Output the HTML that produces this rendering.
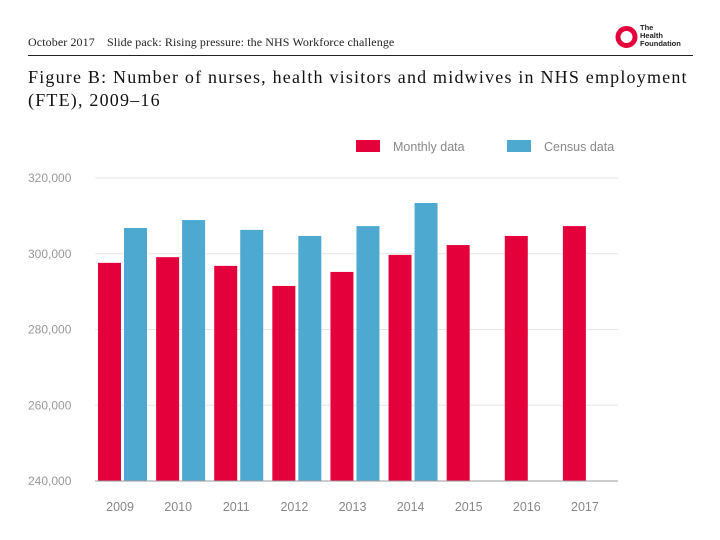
<!DOCTYPE html>
<html><head><meta charset="utf-8"><style>
body{margin:0;width:720px;height:540px;background:#fff;position:relative;overflow:hidden;font-family:"Liberation Serif",serif}
.hdr{position:absolute;top:35px;font-size:12px;color:#222;letter-spacing:0.1px}
</style></head><body>
<div class="hdr" style="left:28px">October 2017</div>
<div class="hdr" style="left:107px">Slide pack: Rising pressure: the NHS Workforce challenge</div>
<div style="position:absolute;left:615px;top:24px;width:80px;height:26px">
<svg width="24" height="24" style="position:absolute;left:0;top:1px"><circle cx="11.5" cy="12" r="8.5" fill="none" stroke="#e4003b" stroke-width="5"/></svg>
<div style="position:absolute;left:25px;top:0;font:bold 7.5px/8px 'Liberation Sans',sans-serif;color:#222">The<br>Health<br>Foundation</div>
</div>
<div style="position:absolute;left:28px;top:55px;width:665px;height:1px;background:#222"></div>
<div style="position:absolute;left:28px;top:66px;font-size:18px;letter-spacing:1.2px;line-height:23px;color:#111;white-space:nowrap">Figure B: Number of nurses, health visitors and midwives in NHS employment<br>(FTE), 2009–16</div>
<svg id="chart" width="720" height="540" style="position:absolute;left:0;top:0"></svg>
<script>
const years=["2009","2010","2011","2012","2013","2014","2015","2016","2017"];
const monthly=[297600,299100,296800,291500,295200,299700,302300,304700,307300];
const census=[306800,308900,306300,304700,307300,313400,null,null,null];
const yTicks=[240000,260000,280000,300000,320000];
const yTickLabels=["240,000","260,000","280,000","300,000","320,000"];
const ns="http://www.w3.org/2000/svg";
const svg=document.getElementById('chart');
const x0=95,x1=618,yB=481,yT=178,vMin=240000,vMax=320000;
const y=v=>yB-(v-vMin)/(vMax-vMin)*(yB-yT);
const gw=(x1-x0)/years.length;
const gx=i=>x0+i*gw;
function mk(t,a){const e=document.createElementNS(ns,t);for(const k in a)e.setAttribute(k,a[k]);svg.appendChild(e);return e;}
yTicks.forEach((v,i)=>{
 const l=mk('line',{x1:x0,x2:x1,y1:y(v),y2:y(v),stroke:i==0?'#999':'#e6e6e6','stroke-width':1});
 
 
 const t=mk('text',{x:28,y:y(v)+4,'font-size':12,fill:'#999','font-family':'Liberation Sans,sans-serif'});
 t.textContent=yTickLabels[i];
 
 
});
years.forEach((yr,i)=>{
 const r=mk('rect',{x:gx(i)+3,y:y(monthly[i]),width:23,height:yB-y(monthly[i]),fill:'#e4003b'});
 
 
 if(census[i]!=null){
  const c=mk('rect',{x:gx(i)+29,y:y(census[i]),width:23,height:yB-y(census[i]),fill:'#4ea9d1'});
  
  
 }
 const t=mk('text',{x:gx(i)+gw/2-4,y:511,'font-size':12.5,fill:'#888','text-anchor':'middle','font-family':'Liberation Sans,sans-serif'});
 t.textContent=yr;
 
 
});
const base=mk('line',{x1:x0,x2:x1,y1:yB,y2:yB,stroke:'#999','stroke-width':1});


[[356,'#e4003b','Monthly data'],[507,'#4ea9d1','Census data']].forEach(([lx,c,n])=>{
 const r=mk('rect',{x:lx,y:140,width:24,height:12,fill:c});
 
 
 const t=mk('text',{x:lx+37,y:151,'font-size':12.5,fill:'#888','font-family':'Liberation Sans,sans-serif'});
 t.textContent=n;
 
 
});
</script>
</body></html>
